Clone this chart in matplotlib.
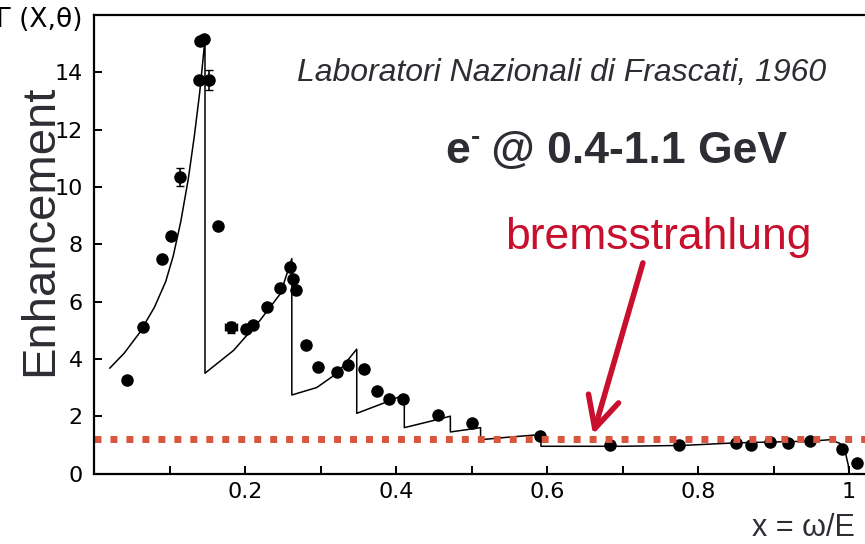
import matplotlib.pyplot as plt

W, H = 865, 544

# calculated enhancement curve; repeated x values give the vertical drops
x_theory = [0.021, 0.040, 0.060, 0.080, 0.095, 0.105, 0.115, 0.125, 0.133, 0.140, 0.147,
            0.147, 0.185, 0.220, 0.247, 0.262,
            0.262, 0.295, 0.322, 0.348,
            0.348, 0.380, 0.411,
            0.411, 0.442, 0.472,
            0.472, 0.491, 0.512,
            0.512, 0.550, 0.592,
            0.592, 0.700, 0.780, 0.850, 0.950, 0.975, 0.988, 0.995, 0.999, 1.000]
y_theory = [3.68, 4.20, 4.90, 5.80, 6.70, 7.60, 8.80, 10.30, 11.80, 13.30, 15.15,
            3.50, 4.30, 5.35, 6.28, 7.50,
            2.74, 3.00, 3.50, 4.34,
            2.10, 2.42, 2.75,
            1.60, 1.80, 2.00,
            1.45, 1.52, 1.60,
            1.18, 1.27, 1.36,
            0.95, 0.95, 0.98, 1.07, 1.13, 1.18, 1.05, 0.75, 0.30, 0.00]

# measured points
x_meas = [0.044, 0.065, 0.090, 0.102, 0.141, 0.146, 0.139, 0.164, 0.201, 0.210,
          0.229, 0.247, 0.260, 0.263, 0.268, 0.281, 0.297, 0.322, 0.336, 0.357,
          0.375, 0.391, 0.409, 0.455, 0.500, 0.591, 0.683, 0.775, 0.850, 0.870,
          0.895, 0.919, 0.948, 0.991, 1.011]
y_meas = [3.26, 5.10, 7.47, 8.30, 15.10, 15.15, 13.75, 8.65, 5.03, 5.20,
          5.80, 6.46, 7.20, 6.80, 6.42, 4.48, 3.72, 3.54, 3.78, 3.65,
          2.88, 2.60, 2.60, 2.05, 1.77, 1.32, 1.00, 1.00, 1.08, 1.00,
          1.10, 1.05, 1.15, 0.87, 0.35]

# points drawn with error bars
x_eb = [0.114, 0.152, 0.182]
y_eb = [10.35, 13.75, 5.10]
yerr_eb = [0.30, 0.35, 0.20]
xerr_eb = [0.0, 0.004, 0.008]

brems_level = 1.2

x_major = [0.2, 0.4, 0.6, 0.8, 1.0]
x_labels = ['0.2', '0.4', '0.6', '0.8', '1']
x_minor = [0.1, 0.3, 0.5, 0.7, 0.9]
y_major = [0, 2, 4, 6, 8, 10, 12, 14]

fig = plt.figure(figsize=(W / 100, H / 100), dpi=100)
ax = fig.add_axes([94 / W, (H - 473.5) / H, (W - 94) / W, (473.5 - 15) / H])

ax.plot(x_theory, y_theory, color='black', lw=1.1)
ax.plot(x_meas, y_meas, 'o', color='black', ms=8)
ax.errorbar(x_eb, y_eb, yerr=yerr_eb, xerr=xerr_eb, fmt='o', color='black',
            ms=8, elinewidth=1.2, capsize=3)

ax.axhline(brems_level, color='#d9553d', lw=5, dashes=(1.0, 1.3))

ax.set_xlim(0, (W - 94) / 755)
ax.set_ylim(0, (473.5 - 15) / 28.65)

ax.spines['right'].set_visible(False)
for side in ['left', 'bottom', 'top']:
    ax.spines[side].set_linewidth(1.6)

ax.set_xticks(x_major)
ax.set_xticklabels(x_labels)
ax.set_xticks(x_minor, minor=True)
ax.set_yticks(y_major)
ax.tick_params(axis='both', which='both', direction='in', length=6, width=1.4,
               labelsize=16, colors='black')
ax.tick_params(axis='x', pad=6)
ax.tick_params(axis='y', pad=8)


def fpos(x, y):
    return x / W, 1 - y / H


# axis labels and annotations
fig.text(*fpos(82, 27), 'Γ (X,θ)', ha='right', va='baseline', fontsize=19,
         color='black', family='DejaVu Sans')
fig.text(*fpos(40, 230), 'Enhancement', rotation=90, ha='center', va='center',
         fontsize=34, color='#2d2d33', family='Liberation Sans')
fig.text(*fpos(855, 536), 'x = ω/E', ha='right', va='baseline', fontsize=22,
         color='#2d2d33', family='Liberation Sans')
fig.text(*fpos(826, 81), 'Laboratori Nazionali di Frascati, 1960', ha='right',
         va='baseline', fontsize=23, style='italic', color='#2d2d33',
         family='Liberation Sans')

t_e = fig.text(*fpos(445, 163), 'e', ha='left', va='baseline', fontsize=32,
               weight='bold', color='#2d2d33', family='Liberation Sans')
ax.annotate('-', xy=(1.0, 1.0), xycoords=t_e, xytext=(1, -5),
            textcoords='offset points', ha='left', va='center', fontsize=20,
            weight='bold', color='#2d2d33', family='Liberation Sans')
ax.annotate(' @ 0.4-1.1 GeV', xy=(1.0, 0.0), xycoords=t_e, xytext=(7, 0),
            textcoords='offset points', ha='left', va='bottom', fontsize=32,
            weight='bold', color='#2d2d33', family='Liberation Sans')

fig.text(*fpos(658, 237), 'bremsstrahlung', ha='center', va='center',
         fontsize=32, color='#c8102e', family='Liberation Sans')

ax.annotate('', xy=(0.661, 1.36), xytext=(0.727, 7.35),
            arrowprops=dict(arrowstyle='->, head_length=0.9, head_width=0.45',
                            color='#c8102e', lw=4, mutation_scale=25,
                            shrinkA=0, shrinkB=0))

fig.savefig('out.png', dpi=100)
